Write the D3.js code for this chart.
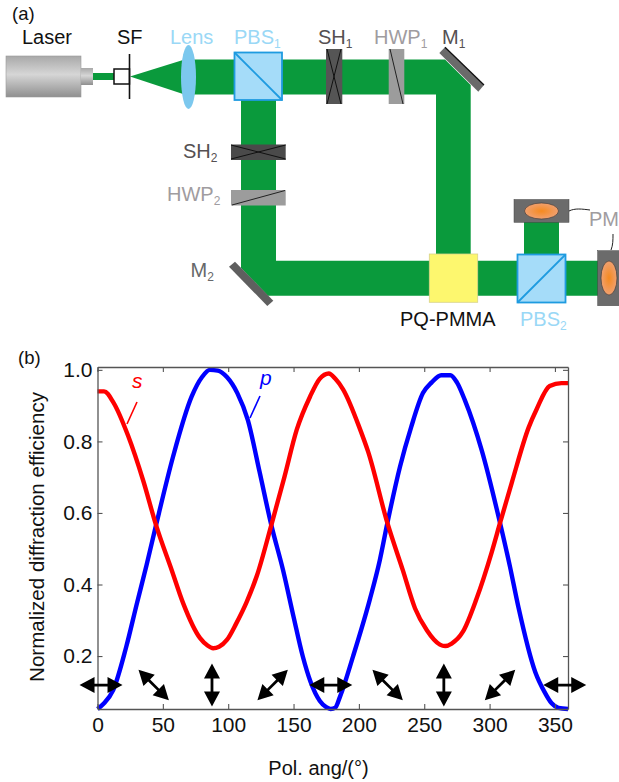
<!DOCTYPE html>
<html>
<head>
<meta charset="utf-8">
<script src="https://cdn.jsdelivr.net/npm/d3@7.9.0/dist/d3.min.js"></script>
<style>
  html, body { margin: 0; padding: 0; background: #fff; }
  svg { display: block; font-family: "Liberation Sans", Arial, sans-serif; }
</style>
</head>
<body>
<svg id="chart" width="619" height="782"></svg>
<script>
// curve values
const pAngles = [0, 5, 12, 22, 30, 37.6, 44.8, 58, 72, 80, 86, 92, 99, 107, 115, 124, 133, 142, 150, 157, 163, 170, 175, 178.4, 182, 185.5, 195.6, 208.5, 216, 221.8, 231.5, 240, 249, 255.7, 263, 270, 275, 281, 294, 308, 315.6, 322, 335, 342, 347.5, 352.7, 360];
const pValues = [0.052, 0.068, 0.105, 0.226, 0.345, 0.455, 0.566, 0.76, 0.925, 0.98, 1.0, 0.998, 0.98, 0.935, 0.86, 0.715, 0.566, 0.44, 0.31, 0.2, 0.128, 0.075, 0.057, 0.052, 0.056, 0.086, 0.2, 0.36, 0.468, 0.572, 0.73, 0.84, 0.935, 0.965, 0.985, 0.985, 0.965, 0.916, 0.775, 0.572, 0.45, 0.338, 0.155, 0.1, 0.068, 0.055, 0.052];
const sAngles = [0, 5, 12, 23.5, 35, 44.8, 56.8, 65.5, 78.5, 84, 88.5, 93, 99, 106, 114, 122, 133, 143, 152.4, 162.6, 170, 177, 182, 188, 201, 207, 221.8, 233.6, 243, 252, 262, 266, 271, 279.6, 290, 301.6, 308, 317, 330, 336, 346, 355, 360];
const sValues = [0.94, 0.94, 0.91, 0.815, 0.69, 0.566, 0.44, 0.348, 0.25, 0.23, 0.222, 0.226, 0.245, 0.29, 0.35, 0.425, 0.566, 0.7, 0.832, 0.925, 0.975, 0.99, 0.975, 0.945, 0.833, 0.772, 0.572, 0.44, 0.333, 0.272, 0.232, 0.228, 0.235, 0.268, 0.36, 0.49, 0.572, 0.685, 0.84, 0.89, 0.955, 0.963, 0.963];

const xTicks = [0, 50, 100, 150, 200, 250, 300, 350];
const yTicks = [0.2, 0.4, 0.6, 0.8, 1.0];

// polarization arrows along the bottom of the plot
const arrowAngles = [2.7, 43, 87.6, 134, 178.5, 222, 265, 308, 357.5];
const arrowTilts = [0, 45, 90, -45, 0, 45, 90, -45, 0];
const arrowLevel = 0.119;

const svg = d3.select('#chart');
const green = '#0a9a3c';

/* ---------- panel (b) ---------- */
const x = d3.scaleLinear().domain([0, 360]).range([97.5, 568]);
const y = d3.scaleLinear().domain([0.052, 1.008]).range([709, 367]);

const plot = svg.append('g');
const line = d3.line().x(d => x(d[0])).y(d => y(d[1])).curve(d3.curveMonotoneX);

function drawCurve(angles, values, color) {
  plot.append('path')
    .attr('d', line(d3.zip(angles, values)))
    .attr('fill', 'none')
    .attr('stroke', color)
    .attr('stroke-width', 4.4)
    .attr('stroke-linejoin', 'round');
}
drawCurve(pAngles, pValues, '#0000ff');
drawCurve(sAngles, sValues, '#ff0000');

// frame + ticks
const axisColor = '#555';
function styleAxis(g) {
  g.select('.domain').attr('stroke', axisColor).attr('stroke-width', 1.3);
  g.selectAll('.tick line').attr('stroke', axisColor).attr('stroke-width', 1.1);
  g.selectAll('text')
    .attr('fill', '#111')
    .attr('font-size', 21)
    .attr('font-family', '"Liberation Sans", Arial, sans-serif');
}
svg.append('g').attr('transform', `translate(0,${y.range()[0]})`)
  .call(d3.axisBottom(x).tickValues(xTicks).tickSize(-5).tickPadding(8).tickSizeOuter(0))
  .call(styleAxis)
  .call(g => g.selectAll('.tick text').attr('dy', '0.71em'));
svg.append('g').attr('transform', `translate(0,${y.range()[1]})`)
  .call(d3.axisTop(x).tickValues(xTicks).tickSize(-5).tickFormat('').tickSizeOuter(0))
  .call(styleAxis);
svg.append('g').attr('transform', `translate(${x.range()[0]},0)`)
  .call(d3.axisLeft(y).tickValues(yTicks).tickSize(-5).tickPadding(5).tickFormat(d3.format('.1f')).tickSizeOuter(0))
  .call(styleAxis);
svg.append('g').attr('transform', `translate(${x.range()[1]},0)`)
  .call(d3.axisRight(y).tickValues(yTicks).tickSize(-5).tickFormat('').tickSizeOuter(0))
  .call(styleAxis);

// double-headed arrows
const arrowPath = 'M-21.5,0 L-6.5,-8 L-6.5,-1.4 L6.5,-1.4 L6.5,-8 L21.5,0 L6.5,8 L6.5,1.4 L-6.5,1.4 L-6.5,8 Z';
svg.append('g').selectAll('path')
  .data(d3.zip(arrowAngles, arrowTilts))
  .join('path')
  .attr('d', arrowPath)
  .attr('fill', '#000')
  .attr('transform', d => `translate(${x(d[0])},${y(arrowLevel)}) rotate(${d[1]})`);

function label(txt, px, py, size, color, opts = {}) {
  const t = svg.append('text')
    .attr('x', px).attr('y', py)
    .attr('font-size', size).attr('fill', color);
  if (opts.anchor) t.attr('text-anchor', opts.anchor);
  if (opts.italic) t.attr('font-style', 'italic');
  if (opts.rotate) t.attr('transform', `rotate(${opts.rotate},${px},${py})`);
  t.append('tspan').text(txt);
  if (opts.sub) {
    t.append('tspan').text(opts.sub).attr('font-size', size * 0.6).attr('dy', size * 0.2);
  }
  return t;
}

label('(b)', 18, 364, 18.5, '#111');
label('Normalized diffraction efficiency', 44, 537, 20.6, '#111', { anchor: 'middle', rotate: -90 });
label('Pol. ang/(°)', 318.5, 775, 20, '#111', { anchor: 'middle' });
label('s', 132, 388, 21, '#ff0000', { italic: true });
label('p', 260, 385, 21, '#0000ff', { italic: true });
svg.append('line').attr('x1', 137).attr('y1', 402).attr('x2', 127).attr('y2', 424).attr('stroke', '#ff0000').attr('stroke-width', 1.6);
svg.append('line').attr('x1', 260).attr('y1', 396).attr('x2', 250).attr('y2', 418).attr('stroke', '#0000ff').attr('stroke-width', 1.6);

/* ---------- panel (a): setup sketch ---------- */
const defs = svg.append('defs');
const laserGrad = defs.append('linearGradient').attr('id', 'laserGrad').attr('x1', 0).attr('x2', 0).attr('y1', 0).attr('y2', 1);
[[0, '#a8a8a8'], [0.45, '#d6d6d6'], [1, '#8f8f8f']].forEach(s => {
  laserGrad.append('stop').attr('offset', s[0]).attr('stop-color', s[1]);
});
const orangeGrad = defs.append('radialGradient').attr('id', 'orangeGrad');
[[0, '#f58a1f'], [1, '#f0a070']].forEach(s => {
  orangeGrad.append('stop').attr('offset', s[0]).attr('stop-color', s[1]);
});

const sketch = svg.insert('g', ':first-child');

function poly(pts, fill, stroke, sw) {
  return sketch.append('polygon').attr('points', pts.map(p => p.join(',')).join(' '))
    .attr('fill', fill).attr('stroke', stroke || 'none').attr('stroke-width', sw || 0);
}
function rect(x0, y0, x1, y1, fill, stroke, sw) {
  return sketch.append('rect').attr('x', x0).attr('y', y0).attr('width', x1 - x0).attr('height', y1 - y0)
    .attr('fill', fill).attr('stroke', stroke || 'none').attr('stroke-width', sw || 0);
}
function seg(x0, y0, x1, y1, color, sw) {
  return sketch.append('line').attr('x1', x0).attr('y1', y0).attr('x2', x1).attr('y2', y1)
    .attr('stroke', color).attr('stroke-width', sw);
}

// green beams
rect(93, 73, 116, 80, green);
poly([[130, 76.5], [183, 60], [183, 94]], green);
poly([[183, 59.5], [445, 59.5], [470.7, 85], [470.7, 260], [436, 260], [436, 94.5], [183, 94.5]], green);
poly([[241, 94], [276, 94], [276, 260.7], [598, 260.7], [598, 295.7], [268, 295.7], [241, 268]], green);
rect(524, 220, 559, 256, green);

// laser
rect(6, 56, 81, 97, 'url(#laserGrad)', '#999', 0.6);
rect(81, 68, 93, 85, 'url(#laserGrad)');

// spatial filter
rect(114, 69, 129.5, 84, '#fff', '#111', 1.5);
seg(129.5, 54, 129.5, 99, '#111', 1.6);

// lens
sketch.append('ellipse').attr('cx', 188.5).attr('cy', 77).attr('rx', 7.5).attr('ry', 32).attr('fill', '#7cc8ee');

// beam splitters
function splitter(x0, y0, x1, y1, rising) {
  rect(x0, y0, x1, y1, '#a5dcf9', '#1e9be0', 1.8);
  if (rising) seg(x0, y1, x1, y0, '#1e9be0', 1.8);
  else seg(x0, y0, x1, y1, '#1e9be0', 1.8);
}
splitter(234.5, 52.5, 282, 100, false);
splitter(517.5, 254.5, 565.5, 302.5, true);

// shutters
rect(326, 49, 342.3, 104, '#555');
seg(327, 49, 341, 104, '#111', 1);
seg(341, 49, 327, 104, '#111', 1);
rect(231, 144.5, 285.7, 160, '#4a4a4a');
seg(231, 159, 285.7, 145, '#111', 1);
seg(231, 145, 285.7, 159, '#111', 1);

// half wave plates
rect(388.7, 49, 404.3, 104, '#9c9c9c');
seg(390, 49, 403, 104, '#222', 1);
rect(231, 190, 285.7, 205.5, '#9c9c9c');
seg(232, 205, 285, 190.5, '#222', 1);

// mirrors
poly([[439.3, 53], [445, 47.3], [484, 85], [478.3, 91.7]], '#6a6a6a');
seg(445, 47.3, 484, 85, '#111', 1.3);
poly([[229, 266.7], [235, 261.7], [273.3, 300.7], [267.3, 306]], '#5f5f5f');

// sample
rect(429.3, 254, 477.7, 302.3, '#fdf76e', '#d8d28a', 0.8);

// power meters
rect(514, 199.5, 569, 222.3, '#6b6b6b', '#444', 0.5);
sketch.append('ellipse').attr('cx', 541.5).attr('cy', 211).attr('rx', 17).attr('ry', 8).attr('fill', 'url(#orangeGrad)').attr('stroke', '#333').attr('stroke-width', 0.6);
rect(597.7, 250.7, 625, 305.7, '#6b6b6b', '#444', 0.5);
sketch.append('ellipse').attr('cx', 609).attr('cy', 278).attr('rx', 8).attr('ry', 17).attr('fill', 'url(#orangeGrad)').attr('stroke', '#333').attr('stroke-width', 0.6);
sketch.append('path').attr('d', 'M569,211 C575,208 582,209 590,210').attr('fill', 'none').attr('stroke', '#222').attr('stroke-width', 1);
sketch.append('path').attr('d', 'M611,250 C613,245 613,240 613,234').attr('fill', 'none').attr('stroke', '#222').attr('stroke-width', 1);

// labels
const grey = '#a09ca0', dark = '#555052', sky = '#9ad8f6';
label('(a)', 12, 20, 18.5, '#111');
label('Laser', 22, 44, 20, '#111');
label('SF', 117, 44, 20, '#111');
label('Lens', 170, 44, 20, sky);
label('PBS', 234, 44, 20, sky, { sub: '1' });
label('SH', 318, 44, 20, dark, { sub: '1' });
label('HWP', 374, 44, 20, grey, { sub: '1' });
label('M', 442, 44, 20, dark, { sub: '1' });
label('SH', 183, 158, 20, dark, { sub: '2' });
label('HWP', 167, 201, 20, grey, { sub: '2' });
label('M', 190.5, 277, 20, '#66686a', { sub: '2' });
label('PQ-PMMA', 400, 326, 20, '#111');
label('PBS', 520, 326, 20, sky, { sub: '2' });
label('PM', 589, 226, 20, grey);
</script>
</body>
</html>
